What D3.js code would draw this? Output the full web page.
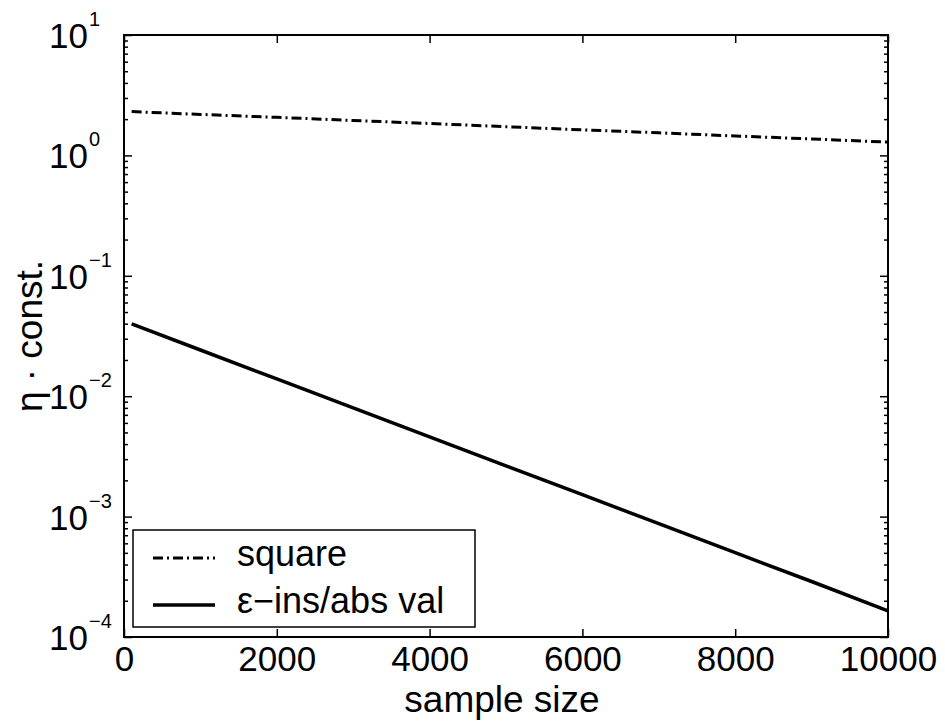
<!DOCTYPE html>
<html>
<head>
<meta charset="utf-8">
<script src="https://cdn.jsdelivr.net/npm/d3@7"></script>
<style>
  body { margin: 0; background: #fff; }
  text { font-family: "Liberation Sans", Arial, sans-serif; fill: #000; }
</style>
</head>
<body>
<div id="chart"></div>
<script>
// values
const sampleSizes = [100, 1000, 2000, 3000, 4000, 5000, 6000, 7000, 8000, 9000, 10000];
const squareVals = [2.31, 2.19, 2.07, 1.95, 1.84, 1.73, 1.63, 1.54, 1.45, 1.37, 1.29];
const epsVals = [0.0398, 0.0242, 0.0139, 0.0080, 0.00459, 0.00264, 0.00152, 0.000873, 0.000502, 0.000289, 0.000165];
const xTicks = [0, 2000, 4000, 6000, 8000, 10000];
const yDecades = [-4, -3, -2, -1, 0, 1];
const seriesNames = ['square', 'ε\u2212ins/abs val'];

const size = { width: 945, height: 722 };
const margin = { top: 35, right: 57, bottom: 85, left: 124 };
const w = size.width - margin.left - margin.right;
const h = size.height - margin.top - margin.bottom;

const svg = d3.select('#chart').append('svg')
  .attr('width', size.width)
  .attr('height', size.height);

const g = svg.append('g').attr('transform', `translate(${margin.left},${margin.top})`);

const x = d3.scaleLinear().domain([0, 10000]).range([0, w]);
const y = d3.scaleLog().domain([1e-4, 10]).range([h, 0]);

const majorY = yDecades.map((e) => Math.pow(10, e));
const minorY = y.ticks().filter((v) => !majorY.some((m) => Math.abs(m - v) / m < 1e-6));

const styleAxis = (sel) => {
  sel.select('.domain').remove();
  sel.selectAll('.tick line').attr('stroke', '#000').attr('stroke-width', 1.5);
};

// x axes, ticks pointing inward
g.append('g').attr('transform', `translate(0,${h})`)
  .call(d3.axisBottom(x).tickValues(xTicks).tickSize(-8).tickFormat(d3.format('d')))
  .call(styleAxis)
  .call((s) => s.selectAll('text').attr('font-size', 35).attr('y', 34).attr('dy', 0));
g.append('g')
  .call(d3.axisTop(x).tickValues(xTicks).tickSize(-8).tickFormat(''))
  .call(styleAxis);

// y axes, major + minor
g.append('g').call(d3.axisLeft(y).tickValues(majorY).tickSize(-8).tickFormat('')).call(styleAxis);
g.append('g').call(d3.axisLeft(y).tickValues(minorY).tickSize(-4).tickFormat('')).call(styleAxis);
g.append('g').attr('transform', `translate(${w},0)`)
  .call(d3.axisRight(y).tickValues(majorY).tickSize(-8).tickFormat('')).call(styleAxis);
g.append('g').attr('transform', `translate(${w},0)`)
  .call(d3.axisRight(y).tickValues(minorY).tickSize(-4).tickFormat('')).call(styleAxis);

// y tick labels 10^n
const yl = g.append('g').selectAll('g').data(yDecades).enter().append('g')
  .attr('transform', (d) => `translate(0,${y(Math.pow(10, d))})`);
yl.append('text')
  .attr('x', -36).attr('y', 13)
  .attr('text-anchor', 'end')
  .attr('font-size', 35)
  .text('10');
yl.append('text')
  .attr('x', -35).attr('y', -9)
  .attr('font-size', 20)
  .text((d) => (d < 0 ? '\u2212' + Math.abs(d) : String(d)));

// frame
g.append('rect').attr('width', w).attr('height', h)
  .attr('fill', 'none').attr('stroke', '#000').attr('stroke-width', 2);

// lines
const line = d3.line().x((d) => x(d[0])).y((d) => y(d[1]));
g.append('path')
  .datum(d3.zip(sampleSizes, squareVals))
  .attr('d', line)
  .attr('fill', 'none').attr('stroke', '#000').attr('stroke-width', 3)
  .attr('stroke-dasharray', '10,4,2,4');
g.append('path')
  .datum(d3.zip(sampleSizes, epsVals))
  .attr('d', line)
  .attr('fill', 'none').attr('stroke', '#000').attr('stroke-width', 3.5);

// axis labels
svg.append('text')
  .attr('x', 502).attr('y', 712)
  .attr('text-anchor', 'middle').attr('font-size', 37)
  .text('sample size');
svg.append('text')
  .attr('transform', `translate(42,${margin.top + h / 2}) rotate(-90)`)
  .attr('text-anchor', 'middle').attr('font-size', 37)
  .text('η · const.');

// legend
const legend = g.append('g').attr('transform', 'translate(9,495)');
legend.append('rect').attr('width', 342).attr('height', 97)
  .attr('fill', '#fff').attr('stroke', '#000').attr('stroke-width', 1.5);
const rows = legend.selectAll('g.row').data(seriesNames).enter().append('g')
  .attr('class', 'row')
  .attr('transform', (d, i) => `translate(0,${28 + i * 47})`);
rows.append('line')
  .attr('x1', 20).attr('x2', 82)
  .attr('stroke', '#000')
  .attr('stroke-width', (d, i) => (i === 0 ? 3 : 3.5))
  .attr('stroke-dasharray', (d, i) => (i === 0 ? '10,4,2,4' : null));
rows.append('text')
  .attr('x', 104).attr('y', 8)
  .attr('font-size', 36)
  .text((d) => d);
</script>
</body>
</html>
